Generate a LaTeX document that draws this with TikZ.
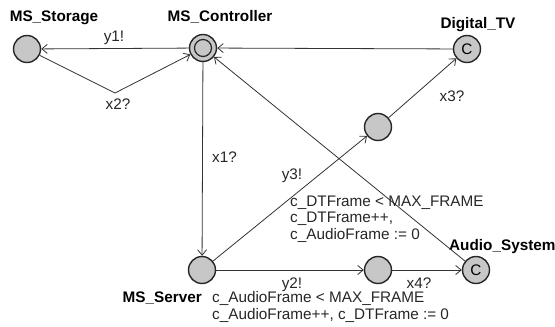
\documentclass[tikz,border=0pt]{standalone}
\usepackage{fontspec}
\setmainfont{Liberation Sans}
\usetikzlibrary{arrows.meta}
\begin{document}
\begin{tikzpicture}[x=1pt,y=-1pt,
  loc/.style={circle,draw=black!85,line width=1.4pt,fill=black!22,minimum size=27pt,inner sep=0pt},
  committed/.style={loc,font=\fontsize{15.3}{15.3}\selectfont},
  trans/.style={draw=black!80,line width=0.8pt,-{Straight Barb[length=5.5pt,width=9pt]}},
  lbl/.style={font=\fontsize{15.3}{16.5}\selectfont,text=black!85,inner sep=0pt,text height=11pt,text depth=3pt},
  locname/.style={lbl,text=black,font=\fontsize{15.3}{16.5}\selectfont\bfseries},
  guard/.style={font=\fontsize{15.3}{16.6}\selectfont,text=black!85,inner sep=0pt,align=left,anchor=north west}]
\useasboundingbox (0,0) rectangle (555,327);

% locations
\node[loc] (st) at (27,49) {};
\node[loc] (ctrl) at (203,48) {};
\draw[line width=1.2pt,draw=black!85] (ctrl.center) circle (8.5pt);
\node[committed] (tv) at (467,49) {C};
\node[loc] (m1) at (378,127) {};
\node[loc] (sv) at (202,270) {};
\node[loc] (m2) at (378,270) {};
\node[committed] (au) at (476,270) {C};

% location names
\node[locname] at (54,17) {MS\_Storage};
\node[locname] at (220,17) {MS\_Controller};
\node[locname] at (478,24) {Digital\_TV};
\node[locname,anchor=west] at (449,246) {Audio\_System};
\node[locname,anchor=east] at (202,298) {MS\_Server};

% transitions
\coordinate (bend) at (115,93);
\draw[trans] (ctrl) -- (st);
\draw[trans] (st) -- (bend) -- (ctrl);
\draw[trans] (ctrl) -- (sv);
\draw[trans] (tv) -- (ctrl);
\draw[trans] (au) -- (ctrl);
\draw[trans] (sv) -- (m1);
\draw[trans] (m1) -- (tv);
\draw[trans] (sv) -- (m2);
\draw[trans] (m2) -- (au);

% transition labels
\node[lbl] at (114,37) {y1!};
\node[lbl] at (118,105) {x2?};
\node[lbl,anchor=west] at (212,158) {x1?};
\node[lbl] at (452,97) {x3?};
\node[lbl] at (292,175) {y3!};
\node[lbl] at (292,284) {y2!};
\node[lbl] at (419,284) {x4?};
\node[guard] at (290,195.5) {c\_DTFrame < MAX\_FRAME\\c\_DTFrame++,\\c\_AudioFrame := 0};
\node[guard] at (212,291.5) {c\_AudioFrame < MAX\_FRAME\\c\_AudioFrame++, c\_DTFrame := 0};
\end{tikzpicture}
\end{document}
